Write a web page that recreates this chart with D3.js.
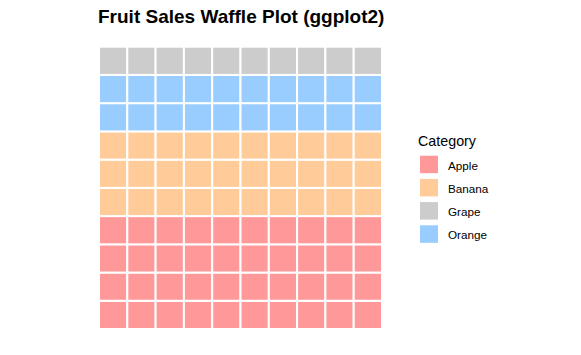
<!DOCTYPE html>
<html><head><meta charset="utf-8">
<script src="https://cdn.jsdelivr.net/npm/d3@7"></script>
<style>body{margin:0;background:#fff}svg{display:block}</style>
</head><body>
<script>
// Data
const fillOrder = ["Apple", "Banana", "Orange", "Grape"];
const counts = [40, 30, 20, 10];
const legendCategories = ["Apple", "Banana", "Grape", "Orange"];
const colors = ["#FF9999", "#FFCC99", "#CCCCCC", "#99CCFF"];
const nCols = 10, nRows = 10;

const W = 581, H = 355;
const svg = d3.select("body").append("svg").attr("width", W).attr("height", H)
  .style("font-family", "Arial, 'Liberation Sans', sans-serif");

const cells = [];
fillOrder.forEach((c, k) => { for (let j = 0; j < counts[k]; j++) cells.push(c); });
const data = cells.map((c, i) => ({cat: c, col: i % nCols, row: Math.floor(i / nCols)}));

const color = d3.scaleOrdinal().domain(legendCategories).range(colors);
const x = d3.scaleBand().domain(d3.range(nCols)).range([99, 382]);
const y = d3.scaleBand().domain(d3.range(nRows)).range([329, 46.7]);

svg.append("g").selectAll("rect").data(data).join("rect")
  .attr("x", d => x(d.col)).attr("y", d => y(d.row))
  .attr("width", x.bandwidth()).attr("height", y.bandwidth())
  .attr("fill", d => color(d.cat))
  .attr("stroke", "#fff").attr("stroke-width", 2);

svg.append("text").attr("x", 98).attr("y", 23)
  .attr("font-size", 19).attr("font-weight", "bold").attr("fill", "#000")
  .text("Fruit Sales Waffle Plot (ggplot2)");

const lg = svg.append("g");
lg.append("text").attr("x", 418).attr("y", 146).attr("font-size", 14.3).attr("fill", "#000").text("Category");
const ly = d3.scaleBand().domain(legendCategories).range([155.7, 155.7 + 23.2 * 4]);
legendCategories.forEach(c => {
  lg.append("rect").attr("x", 420).attr("y", ly(c)).attr("width", 18).attr("height", 17.5).attr("fill", color(c));
  lg.append("text").attr("x", 448).attr("y", ly(c) + 8.75 + 5.2).attr("font-size", 11.7).attr("fill", "#000").text(c);
});
</script>
</body></html>
